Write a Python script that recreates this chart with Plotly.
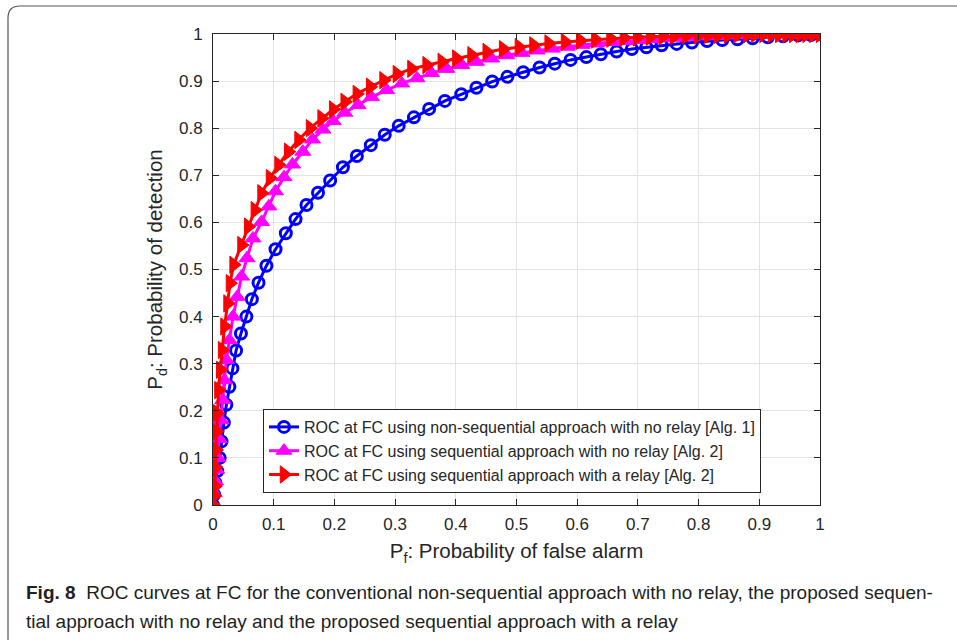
import plotly.graph_objects as go

# ---------------- data ----------------
blue_x = [0, 0.002, 0.004, 0.007, 0.011, 0.014, 0.018, 0.022, 0.027, 0.032, 0.038, 0.046,
          0.055, 0.064, 0.075, 0.088, 0.103, 0.120, 0.136, 0.154, 0.173, 0.193, 0.214,
          0.237, 0.260, 0.283, 0.306, 0.331, 0.356, 0.382, 0.409, 0.434, 0.460, 0.485,
          0.511, 0.538, 0.563, 0.589, 0.615, 0.639, 0.665, 0.690, 0.714, 0.739, 0.764,
          0.789, 0.814, 0.839, 0.864, 0.889, 0.914, 0.939, 0.964, 0.985, 1.0]
blue_y = [0, 0.022, 0.047, 0.072, 0.100, 0.135, 0.175, 0.213, 0.251, 0.290, 0.328, 0.364,
          0.400, 0.437, 0.472, 0.508, 0.543, 0.577, 0.607, 0.637, 0.663, 0.689, 0.717,
          0.741, 0.764, 0.786, 0.805, 0.823, 0.841, 0.858, 0.872, 0.886, 0.899, 0.909,
          0.919, 0.929, 0.937, 0.945, 0.951, 0.957, 0.963, 0.968, 0.972, 0.976, 0.979,
          0.982, 0.985, 0.987, 0.989, 0.991, 0.993, 0.995, 0.997, 0.998, 1.0]

mag_x = [0, 0.002, 0.004, 0.006, 0.008, 0.010, 0.013, 0.016, 0.019, 0.022, 0.027, 0.033,
         0.040, 0.047, 0.056, 0.066, 0.080, 0.092, 0.103, 0.117, 0.131, 0.148, 0.164,
         0.181, 0.198, 0.217, 0.239, 0.261, 0.286, 0.311, 0.336, 0.360, 0.385, 0.410,
         0.434, 0.459, 0.484, 0.509, 0.534, 0.559, 0.584, 0.608, 0.632, 0.656, 0.679,
         0.702, 0.724, 0.746, 0.767, 0.788, 0.808, 0.828, 0.847, 0.866, 0.885, 0.903,
         0.921, 0.939, 0.956, 0.972, 0.987, 1.0]
mag_y = [0, 0.025, 0.050, 0.075, 0.100, 0.140, 0.180, 0.223, 0.265, 0.308, 0.350, 0.400,
         0.442, 0.485, 0.524, 0.566, 0.601, 0.634, 0.666, 0.696, 0.723, 0.750, 0.776,
         0.797, 0.815, 0.833, 0.849, 0.866, 0.881, 0.895, 0.906, 0.917, 0.926, 0.934,
         0.941, 0.948, 0.955, 0.960, 0.965, 0.969, 0.973, 0.977, 0.980, 0.983, 0.985,
         0.987, 0.989, 0.991, 0.992, 0.994, 0.995, 0.996, 0.997, 0.998, 0.998, 0.999,
         0.999, 1.0, 1.0, 1.0, 1.0, 1.0]

red_x = [0, 0.002, 0.003, 0.004, 0.005, 0.006, 0.007, 0.009, 0.012, 0.015, 0.019, 0.024,
         0.028, 0.034, 0.047, 0.058, 0.069, 0.080, 0.094, 0.108, 0.124, 0.141, 0.160,
         0.179, 0.198, 0.217, 0.237, 0.259, 0.281, 0.303, 0.327, 0.352, 0.377, 0.401,
         0.426, 0.451, 0.478, 0.504, 0.528, 0.553, 0.580, 0.605, 0.630, 0.655, 0.677,
         0.699, 0.720, 0.741, 0.760, 0.780, 0.799, 0.816, 0.832, 0.849, 0.864, 0.880,
         0.893, 0.907, 0.921, 0.933, 0.945, 0.956, 0.967, 0.978, 0.989, 1.0]
red_y = [0, 0.020, 0.040, 0.080, 0.117, 0.156, 0.195, 0.244, 0.287, 0.329, 0.379, 0.428,
         0.471, 0.510, 0.552, 0.591, 0.626, 0.662, 0.694, 0.722, 0.750, 0.775, 0.800,
         0.821, 0.840, 0.856, 0.873, 0.888, 0.902, 0.915, 0.926, 0.934, 0.941, 0.948,
         0.955, 0.962, 0.968, 0.972, 0.976, 0.980, 0.983, 0.986, 0.988, 0.990, 0.992,
         0.993, 0.994, 0.995, 0.996, 0.997, 0.997, 0.998, 0.998, 0.999, 0.999, 0.999,
         1.0, 1.0, 1.0, 1.0, 1.0, 1.0, 1.0, 1.0, 1.0, 1.0]

names = ["ROC at FC using non-sequential approach with no relay [Alg. 1]",
         "ROC at FC using sequential approach with no relay [Alg. 2]",
         "ROC at FC using sequential approach with a relay [Alg. 2]"]

tick_vals = [0, 0.1, 0.2, 0.3, 0.4, 0.5, 0.6, 0.7, 0.8, 0.9, 1]
tick_text = ["0", "0.1", "0.2", "0.3", "0.4", "0.5", "0.6", "0.7", "0.8", "0.9", "1"]

# ---------------- layout geometry ----------------
W, H = 957, 640
L, R, T, B = 213, 820, 34, 505


def px(xp):
    return (xp - L) / (R - L)


def py(yp):
    return (B - yp) / (B - T)


fig = go.Figure()
fig.add_trace(go.Scatter(x=blue_x, y=blue_y, mode="lines+markers", name=names[0],
                         line=dict(color="#0000ff", width=3),
                         marker=dict(symbol="circle-open", size=11, color="#0000ff",
                                     line=dict(width=3, color="#0000ff"))))
fig.add_trace(go.Scatter(x=mag_x, y=mag_y, mode="lines+markers", name=names[1],
                         line=dict(color="#ff00ff", width=3),
                         marker=dict(symbol="triangle-up", size=14, color="#ff00ff",
                                     line=dict(width=1, color="#ff00ff"))))
fig.add_trace(go.Scatter(x=red_x, y=red_y, mode="lines+markers", name=names[2],
                         line=dict(color="#ff0000", width=3),
                         marker=dict(symbol="triangle-right", size=15, color="#ff0000",
                                     line=dict(width=1, color="#ff0000"))))

axis_common = dict(
    range=[0, 1], tickvals=tick_vals, ticktext=tick_text,
    showgrid=True, gridcolor="#e3e3e3", gridwidth=1,
    showline=True, linecolor="#262626", linewidth=1, mirror="ticks",
    ticks="inside", ticklen=6, tickcolor="#262626", tickwidth=1,
    tickfont=dict(family="Liberation Sans, Arial", size=17, color="#262626"),
    zeroline=False, fixedrange=True,
)

fig.update_layout(
    width=W, height=H,
    margin=dict(l=L, r=W - R, t=T, b=H - B, pad=0),
    paper_bgcolor="white", plot_bgcolor="white",
    font=dict(family="Liberation Sans, Arial", color="#262626"),
    xaxis=dict(axis_common, ticklabelstandoff=4,
               title=dict(text="P<sub>f</sub>: Probability of false alarm",
                          font=dict(size=20.5, color="#262626"), standoff=10)),
    yaxis=dict(axis_common, ticklabelstandoff=6,
               title=dict(text="P<sub>d</sub>: Probability of detection",
                          font=dict(size=20.5, color="#262626"), standoff=10)),
    showlegend=True,
    legend=dict(x=px(263), y=py(409), xanchor="left", yanchor="top",
                bgcolor="white", bordercolor="#262626", borderwidth=1,
                font=dict(family="Liberation Sans, Arial", size=16, color="#262626"),
                tracegroupgap=0, itemwidth=30),
)

# outer rounded frame
fl, ft, fr, fb, rad = 8, 6, 975, 650, 12
path = (f"M {px(fl)} {py(ft + rad)} "
        f"Q {px(fl)} {py(ft)} {px(fl + rad)} {py(ft)} "
        f"L {px(fr)} {py(ft)} L {px(fr)} {py(fb)} L {px(fl + rad)} {py(fb)} "
        f"Q {px(fl)} {py(fb)} {px(fl)} {py(fb - rad)} Z")
fig.add_shape(type="path", path=path, xref="paper", yref="paper",
              line=dict(color="#555555", width=1.2), layer="below")

cap_font = dict(family="Liberation Sans, Arial", size=19, color="#231f20")
fig.add_annotation(xref="paper", yref="paper", x=px(24), y=py(592), xanchor="left",
                   yanchor="middle", showarrow=False, font=cap_font,
                   text="<b>Fig. 8</b>  ROC curves at FC for the conventional non-sequential approach with no relay, the proposed sequen-")
fig.add_annotation(xref="paper", yref="paper", x=px(24), y=py(621), xanchor="left",
                   yanchor="middle", showarrow=False, font=cap_font,
                   text="tial approach with no relay and the proposed sequential approach with a relay")

fig.write_html("out.html", config={"displayModeBar": False},
               post_script="document.body.style.margin='0px';document.body.style.overflow='hidden';")
